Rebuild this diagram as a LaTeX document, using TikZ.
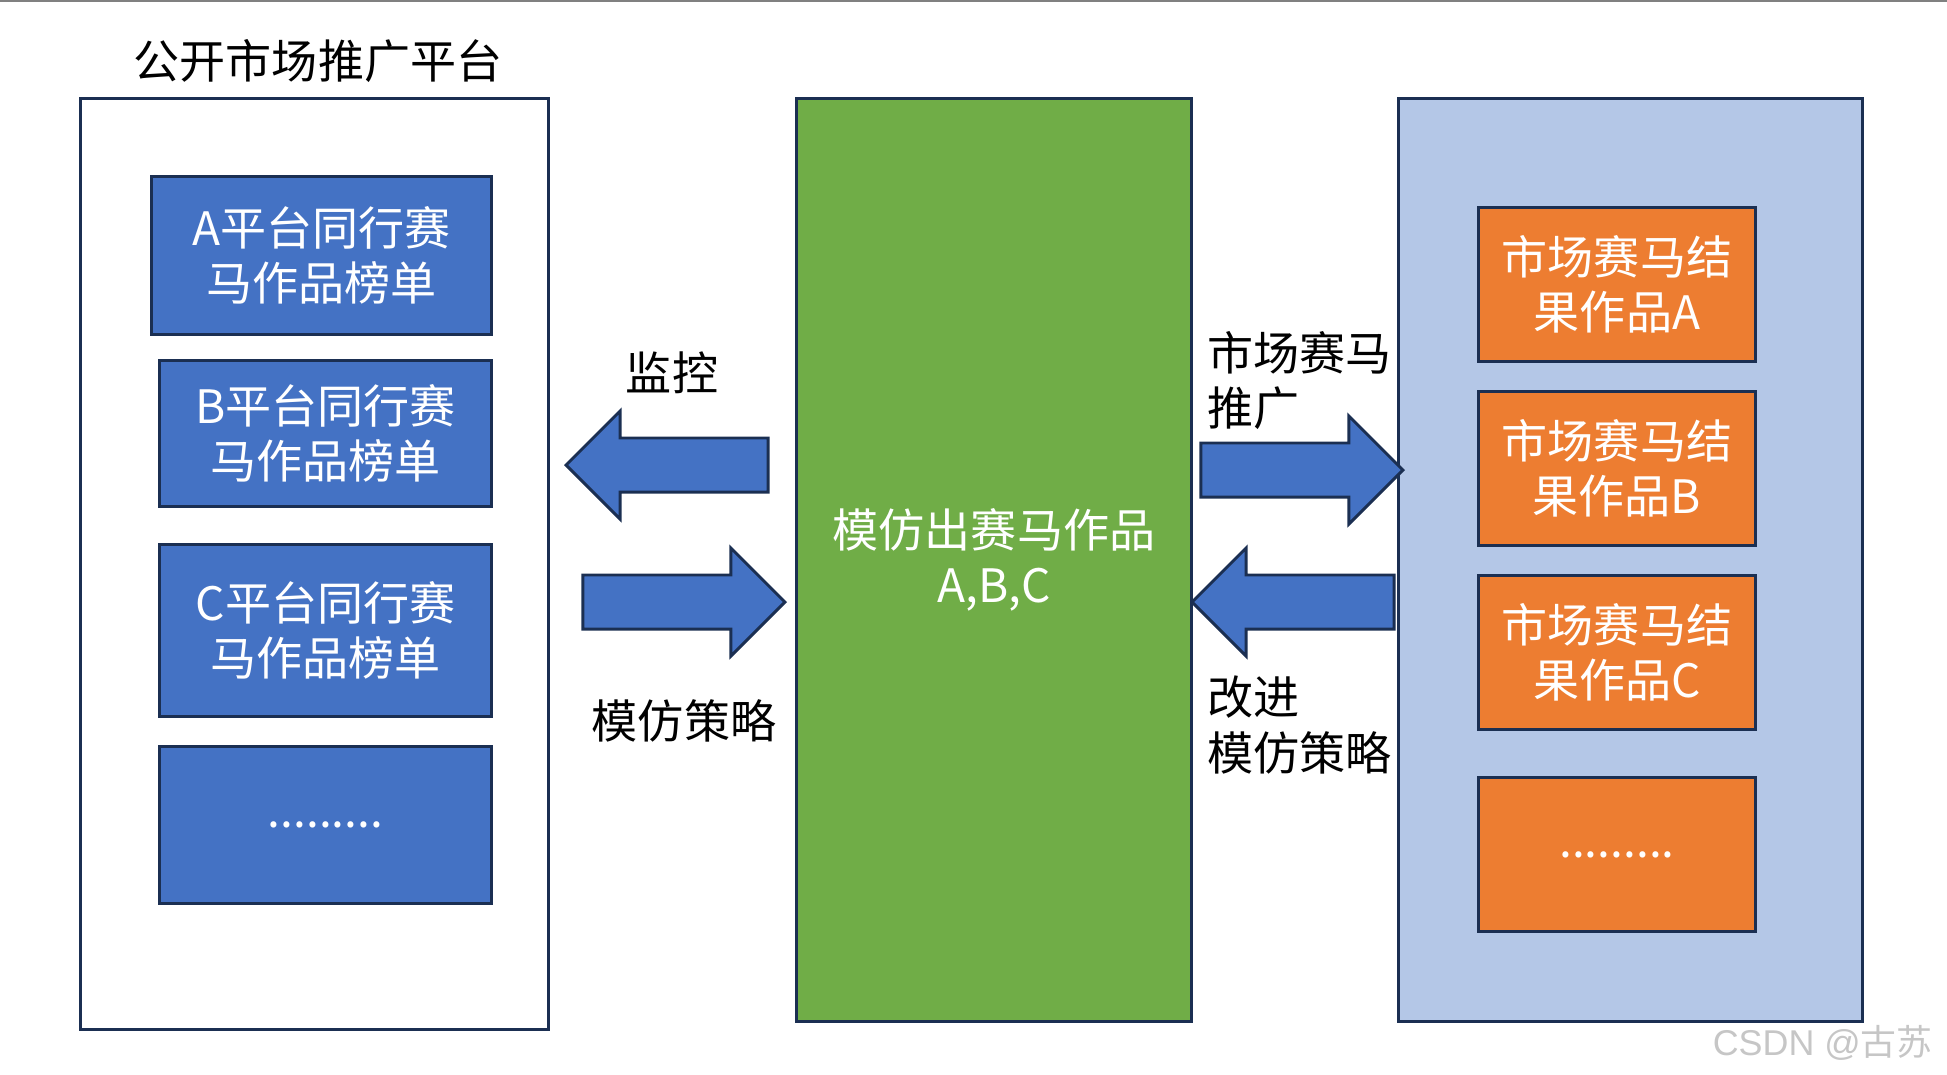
\documentclass[tikz,border=0pt]{standalone}
\usepackage{fontspec}
\setmainfont{Noto Sans CJK SC}
\newfontfamily\markfont{Liberation Sans}
\usepackage{tikz}
\usetikzlibrary{
  % block arrows between the columns
  shapes.arrows,%
  positioning
}
\definecolor{boxblue}{HTML}{4472C4}
\definecolor{edgenavy}{HTML}{1B2F52}
\definecolor{leafgreen}{HTML}{70AD47}
\definecolor{boxorange}{HTML}{ED7D31}
\definecolor{paleblue}{HTML}{B4C7E7}
\newcommand{\bigfont}{\fontsize{13.1pt}{15.65pt}\selectfont}
\tikzset{font=\bigfont}
\tikzset{
  rankbox/.style={draw=edgenavy, line width=0.85pt, fill=boxblue, text=white,
    align=center, inner sep=0pt, minimum width=3.31cm},
  resultbox/.style={draw=edgenavy, line width=0.85pt, fill=boxorange, text=white,
    align=center, inner sep=0pt, minimum width=2.76cm, minimum height=1.53cm},
  blockarrow/.style={single arrow, draw=edgenavy, line width=0.85pt, fill=boxblue,
    minimum height=2.02cm, single arrow head extend=0.27cm,
    inner xsep=0pt, inner ysep=0.255cm, anchor=tip},
  lbl/.style={align=left, inner sep=0pt}
}

\begin{document}
\begin{tikzpicture}[x=0.01cm, y=-0.01cm]
  \useasboundingbox (0,0) rectangle (1947,1075);
  \draw[gray, line width=0.6pt] (0,1) -- (1947,1);

  % left column
  \node (title) at (318,61) {公开市场推广平台};
  \node[draw=edgenavy, line width=0.85pt, fill=white, minimum width=4.67cm,
    minimum height=9.30cm] (platform) at (314.5,564) {};
  \node[rankbox, minimum width=3.39cm, minimum height=1.57cm] (rankA) at (321.5,255.5)
    {A平台同行赛\\马作品榜单};
  \node[rankbox, minimum height=1.45cm] (rankB) at (325.5,433.5) {B平台同行赛\\马作品榜单};
  \node[rankbox, minimum height=1.71cm] (rankC) at (325.5,630.5) {C平台同行赛\\马作品榜单};
  \node[rankbox, minimum height=1.56cm] (rankmore) at (325.5,825) {.........};

  % middle column
  \node[draw=edgenavy, line width=0.85pt, fill=leafgreen, text=white, align=center,
    minimum width=3.94cm, minimum height=9.22cm] (copies) at (994,560)
    {模仿出赛马作品\\A,B,C};

  % right column
  \node[draw=edgenavy, line width=0.85pt, fill=paleblue, minimum width=4.63cm,
    minimum height=9.22cm] (market) at (1630.5,560) {};
  \foreach \y/\t [count=\i] in {284.5/A, 468.5/B, 652.5/C}
    \node[resultbox] (result\t) at (1617,\y) {市场赛马结\\果作品\t};
  \node[resultbox] (resultmore) at (1617,854.5) {.........};

  % arrows (placed by their tips) and their labels
  \node[blockarrow, shape border rotate=180] (watch) at (564,465) {};
  \node[blockarrow] (imitate) at (787,602) {};
  \node[blockarrow] (promote) at (1405,470) {};
  \node[blockarrow, shape border rotate=180] (improve) at (1190,602) {};
  \node (watchlbl) at (672,373) {监控};
  \node (imitatelbl) at (684,721) {模仿策略};
  \node[lbl, anchor=west] (promotelbl) at (1207,381) {市场赛马\\推广};
  \node[lbl, anchor=west] (improvelbl) at (1207,725) {改进\\模仿策略};

  \node[anchor=east, text=gray!45, font=\fontsize{10.2pt}{12pt}\selectfont] (mark)
    at (1945,1043) {{\markfont CSDN @}古苏};
\end{tikzpicture}
\end{document}
